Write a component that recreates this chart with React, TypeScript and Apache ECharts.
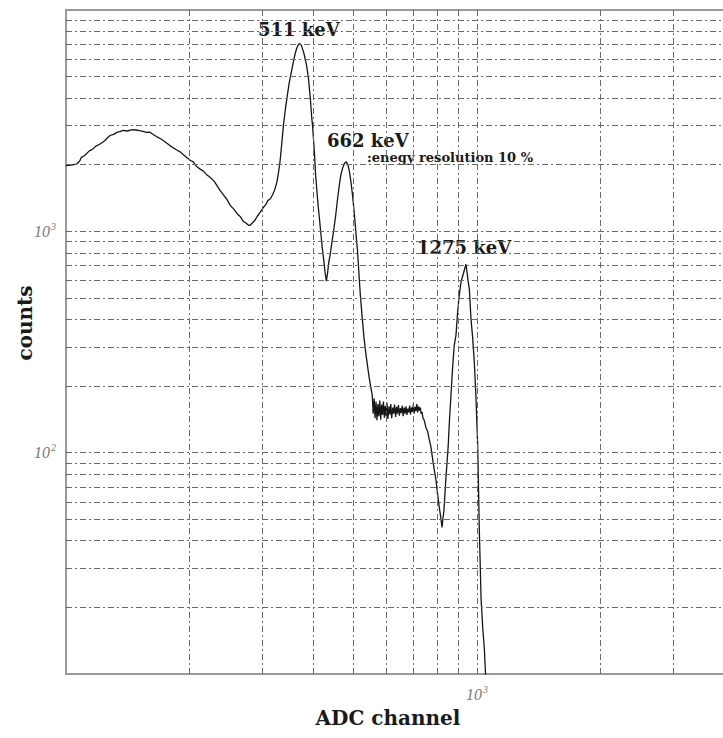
import React, { useEffect, useRef } from "react";
import * as echarts from "echarts";

// ADC channel values (x) and counts (y)
const channels = [
  100, 103, 106, 108, 109, 111, 114, 116, 118, 121, 124, 126, 128, 131, 133, 135, 138, 141, 145, 148,
  151, 154, 157, 160, 163, 166, 170, 173, 176, 179, 182, 186, 190, 193, 197, 201, 204, 207, 212, 216,
  220, 224, 229, 233, 237, 241, 246, 251, 256, 261, 266, 270, 274, 278, 281, 284, 288, 292, 297, 302,
  307, 310, 314, 318, 322, 326, 329, 332, 335, 338, 342, 346, 349, 352, 356, 360, 364, 368, 371, 374,
  378, 381, 385, 389, 393, 396, 398, 402, 405, 410, 416, 420, 424, 427, 430, 433, 436, 440, 443, 448,
  453, 457, 461, 466, 471, 476, 481, 485, 489, 494, 498, 503, 507, 512, 516, 520, 526, 531, 536, 541,
  546, 551, 556, 559, 562, 565, 568, 571, 574, 577, 580, 583, 586, 589, 592, 595, 598, 601, 604, 607,
  611, 614, 617, 620, 624, 627, 630, 634, 637, 640, 644, 647, 651, 654, 658, 661, 665, 668, 672, 675,
  679, 682, 686, 689, 693, 696, 700, 703, 707, 710, 714, 717, 721, 724, 728, 731, 735, 739, 743, 747,
  751, 758, 765, 772, 779, 786, 794, 801, 809, 815, 822, 826, 831, 836, 840, 846, 851, 857, 864, 872,
  880, 889, 897, 905, 914, 923, 930, 936, 940, 945, 950, 958, 967, 976, 985, 994, 1004, 1013, 1023, 1033,
  1042, 1049, 1052,
];
const counts = [
  1980, 1990, 2010, 2080, 2160, 2200, 2310, 2350, 2420, 2480, 2560, 2640, 2710, 2750, 2800, 2820, 2860, 2840, 2880, 2870,
  2850, 2830, 2800, 2805, 2740, 2680, 2620, 2560, 2500, 2440, 2390, 2330, 2280, 2220, 2150, 2090, 2060, 1980, 1910, 1870,
  1800, 1756, 1690, 1610, 1530, 1470, 1400, 1310, 1260, 1200, 1160, 1110, 1090, 1065, 1068, 1090, 1120, 1170, 1220, 1280,
  1330, 1380, 1400, 1460, 1540, 1672, 1850, 2100, 2500, 2996, 3600, 4181, 4650, 5059, 5600, 6212, 6700, 7000, 7050, 6900,
  6500, 6148, 5600, 4900, 4000, 3300, 2996, 2300, 1785, 1350, 1024, 850, 734, 650, 596, 650, 726, 800, 876, 1010,
  1177, 1360, 1550, 1785, 1930, 2030, 2060, 2000, 1874, 1650, 1449, 1200, 1000, 815, 650, 520, 401, 330, 284, 250,
  221, 200, 182, 150, 176, 143, 170, 140, 166, 146, 172, 141, 165, 148, 170, 144, 163, 146, 168, 142,
  162, 149, 166, 143, 160, 150, 165, 145, 161, 150, 164, 147, 159, 151, 163, 146, 160, 150, 162, 148,
  158, 152, 163, 149, 160, 153, 165, 150, 161, 154, 166, 152, 162, 155, 160, 150, 153, 143, 141, 136,
  130, 125, 115, 107, 95, 85, 76, 66, 57, 52, 46, 50, 55, 66, 76, 92, 107, 140, 180, 240,
  304, 340, 431, 510, 590, 628, 660, 690, 710, 660, 610, 548, 401, 330, 256, 180, 107, 45, 22, 16,
  13, 10, 8,
];

// grid (tick) values of the log axes
const xGridValues = [200, 300, 400, 500, 600, 700, 800, 900, 1000, 2000, 3000, 4000, 5000, 6000, 7000, 8000, 9000];
const yGridValues = [
  20, 30, 40, 50, 60, 70, 80, 90, 100, 200, 300, 400, 500, 600, 700, 800, 900, 1000,
  2000, 3000, 4000, 5000, 6000, 7000, 8000, 9000,
];
const xLabelExponents = [3];
const yLabelExponents = [2, 3];

const peakLabels = ["511 keV", "662 keV", "1275 keV"];
const resolutionNote = ":enegy resolution 10 %";
const xAxisTitle = "ADC channel";
const yAxisTitle = "counts";

const tickRich = {
  n: { fontFamily: "Liberation Serif", fontStyle: "italic", fontSize: 16, color: "#7a7a7a" },
  e: { fontFamily: "Liberation Serif", fontStyle: "italic", fontSize: 10, color: "#7a7a7a", padding: [0, 0, 10, 1] },
};

function decadeFormatter(exps: number[]) {
  return (v: number) => {
    const e = Math.round(Math.log10(v));
    if (Math.abs(Math.log10(v) - e) > 1e-6) return "";
    return exps.includes(e) ? `{n|10}{e|${e}}` : "";
  };
}

export default function App() {
  const ref = useRef<HTMLDivElement>(null);
  useEffect(() => {
    if (!ref.current) return;
    const chart = echarts.init(ref.current, undefined, { renderer: "svg" });
    const gridStyle = { color: "#6a6a6a", width: 1, type: [6, 3, 2, 3] as any };
    const labelFont = { fontFamily: "DejaVu Serif", fontWeight: "bold" as const, fill: "#1a1a1a" };
    chart.setOption({
      animation: false,
      backgroundColor: "#ffffff",
      grid: {
        left: 66,
        top: 10,
        width: 822,
        height: 664,
        outerBoundsMode: "none",
        show: true,
        borderColor: "#9a9a9a",
        borderWidth: 2,
      },
      xAxis: {
        type: "log",
        logBase: 10,
        min: 100,
        max: 10000,
        axisLine: { show: false },
        axisTick: { show: false },
        splitLine: { show: false },
        axisLabel: { formatter: decadeFormatter(xLabelExponents), rich: tickRich, margin: 10 },
      },
      yAxis: {
        type: "log",
        logBase: 10,
        min: 10,
        max: 10000,
        axisLine: { show: false },
        axisTick: { show: false },
        splitLine: { show: false },
        axisLabel: { formatter: decadeFormatter(yLabelExponents), rich: tickRich, margin: 10 },
      },
      series: [
        {
          type: "line",
          data: [],
          z: 1,
          silent: true,
          markLine: {
            silent: true,
            symbol: ["none", "none"],
            label: { show: false },
            lineStyle: gridStyle,
            data: [
              ...xGridValues.map((v) => ({ xAxis: v })),
              ...yGridValues.map((v) => ({ yAxis: v })),
            ],
          },
        },
        {
          type: "line",
          z: 3,
          data: channels.map((c, i) => [c, counts[i]]),
          showSymbol: false,
          symbol: "none",
          clip: true,
          lineStyle: { color: "#151515", width: 1.3 },
        },
      ],
      graphic: [
        { type: "text", left: 258, top: 20, style: { text: peakLabels[0], fontSize: 18, ...labelFont } },
        { type: "text", left: 327, top: 131, style: { text: peakLabels[1], fontSize: 18, ...labelFont } },
        { type: "text", left: 417, top: 238, style: { text: peakLabels[2], fontSize: 18, ...labelFont } },
        { type: "text", left: 367, top: 151, style: { text: resolutionNote, fontSize: 13, ...labelFont } },
        {
          type: "text",
          x: 25,
          y: 323,
          rotation: Math.PI / 2,
          style: { text: yAxisTitle, fontSize: 20, align: "center", verticalAlign: "middle", ...labelFont },
        },
        {
          type: "text",
          x: 388,
          y: 718,
          style: { text: xAxisTitle, fontSize: 20, align: "center", verticalAlign: "middle", ...labelFont },
        },
      ],
    });
    return () => chart.dispose();
  }, []);
  return (
    <div style={{ position: "fixed", left: 0, top: 0, width: 723, height: 738, overflow: "hidden", background: "#fff" }}>
      <div ref={ref} style={{ width: 900, height: 738 }} />
    </div>
  );
}
